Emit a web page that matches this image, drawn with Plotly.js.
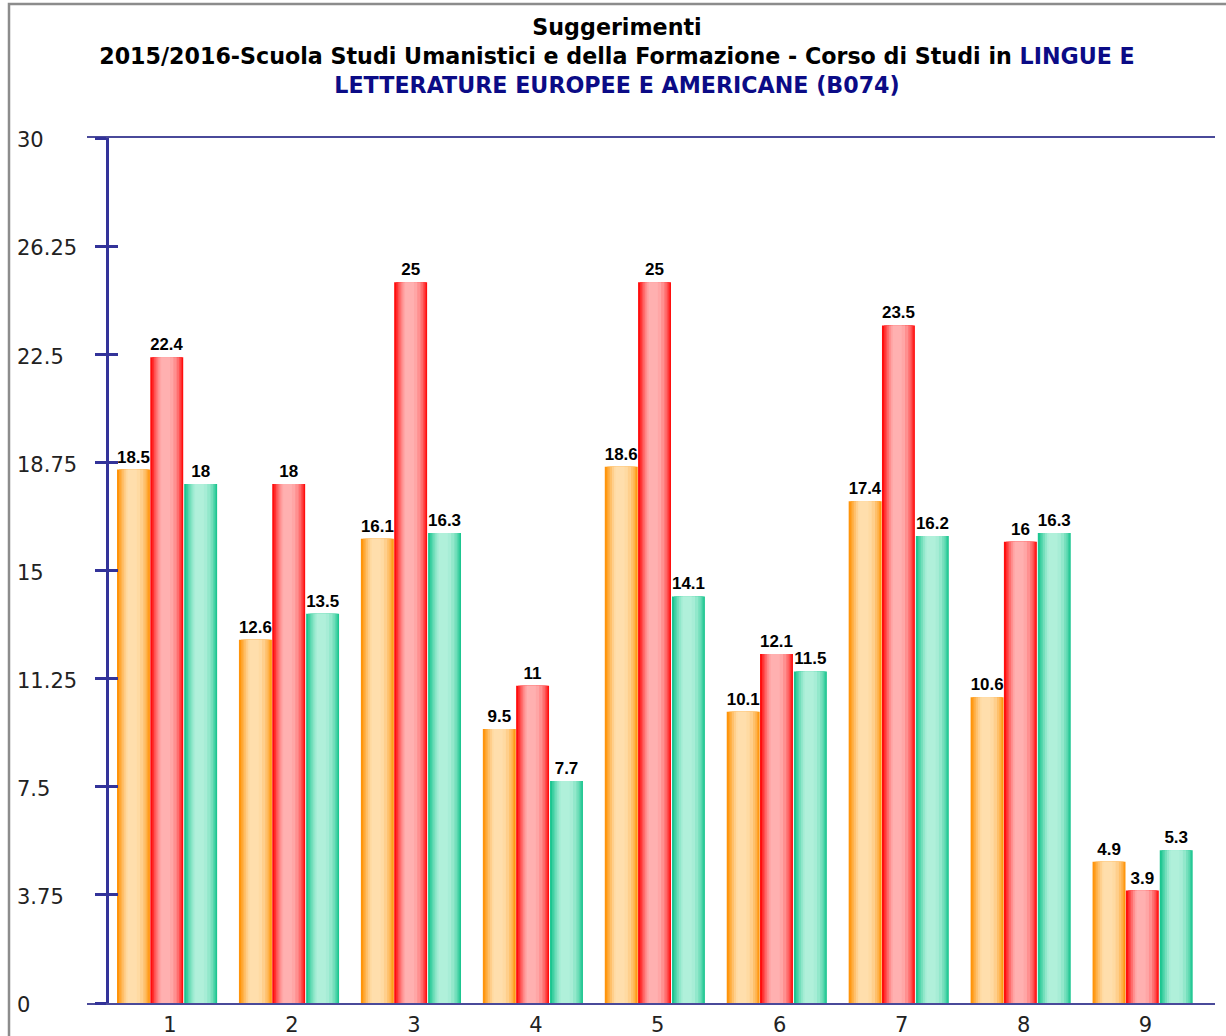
<!DOCTYPE html>
<html>
<head>
<meta charset="utf-8">
<script src="https://cdn.plot.ly/plotly-3.0.1.min.js"></script>
<style>html,body{margin:0;padding:0;background:#fff;}#chart{width:1226px;height:1036px;}</style>
</head>
<body>
<div id="chart"></div>
<script>
// ---- data ----
const categories = [1, 2, 3, 4, 5, 6, 7, 8, 9];
const categoryLabels = ["1", "2", "3", "4", "5", "6", "7", "8", "9"];
const seriesA = [18.5, 12.6, 16.1, 9.5, 18.6, 10.1, 17.4, 10.6, 4.9];   // orange
const seriesB = [22.4, 18, 25, 11, 25, 12.1, 23.5, 16, 3.9];           // red
const seriesC = [18, 13.5, 16.3, 7.7, 14.1, 11.5, 16.2, 16.3, 5.3];      // green
const yTickVals = [0, 3.75, 7.5, 11.25, 15, 18.75, 22.5, 26.25, 30];
const yTickText = ["0", "3.75", "7.5", "11.25", "15", "18.75", "22.5", "26.25", "30"];

// ---- styles ----
const seriesStyles = [
  {values: seriesA, offset: -0.41, edge: [255, 148, 10], light: [255, 222, 172]},
  {values: seriesB, offset: -0.137, edge: [255, 14, 14], light: [255, 176, 176]},
  {values: seriesC, offset: 0.141, edge: [28, 198, 144], light: [176, 240, 218]}
];
const barW = 0.27;
// nested gradient layers: [left fraction, right fraction, mix amount]
const layers = [
  [0.00, 1.00, 0.00],
  [0.06, 0.96, 0.20],
  [0.11, 0.92, 0.40],
  [0.16, 0.87, 0.60],
  [0.22, 0.80, 0.80],
  [0.28, 0.70, 0.94],
  [0.33, 0.60, 1.00]
];

function mix(a, b, t) {
  return 'rgb(' + a.map((v, i) => Math.round(v + (b[i] - v) * t)).join(',') + ')';
}

const traces = [];
seriesStyles.forEach(s => {
  layers.forEach((L, k) => {
    const tr = {
      type: 'bar',
      x: categories,
      y: s.values,
      width: barW * (L[1] - L[0]),
      offset: s.offset + barW * L[0],
      marker: {color: mix(s.edge, s.light, L[2]), line: {width: 0}},
      hoverinfo: 'skip',
      showlegend: false
    };
    if (k === 0) {
      tr.text = s.values.map(v => String(v));
      tr.textposition = 'outside';
      tr.textfont = {family: '"Liberation Sans", Arial, sans-serif', size: 17, color: '#000', weight: 'bold'};
      tr.cliponaxis = false;
    }
    traces.push(tr);
  });
});

const axisColor = '#333399';
const layout = {
  width: 1226,
  height: 1036,
  margin: {l: 10, r: 11, t: 138, b: 33, pad: 0},
  paper_bgcolor: '#fff',
  plot_bgcolor: 'rgba(0,0,0,0)',
  barmode: 'overlay',
  font: {family: '"DejaVu Sans", Verdana, sans-serif', color: '#222'},
  title: {
    text: '<b>Suggerimenti<br>2015/2016-Scuola Studi Umanistici e della Formazione - Corso di Studi in <span style="color:#0b0b86">LINGUE E</span><br><span style="color:#0b0b86">LETTERATURE EUROPEE E AMERICANE (B074)</span></b>',
    font: {family: '"DejaVu Sans", Verdana, sans-serif', size: 22.2, color: '#000'},
    x: 617 / 1226, xref: 'container', xanchor: 'center',
    y: 1 - 35 / 1036, yref: 'container', yanchor: 'top'
  },
  xaxis: {
    domain: [77 / 1205, 1],
    range: [0.344, 9.594],
    tickvals: categories,
    ticktext: categoryLabels,
    ticks: '',
    ticklabelshift: 3,
    ticklabelstandoff: 2,
    showgrid: false,
    zeroline: false,
    showline: true,
    linecolor: '#4a4a9a',
    linewidth: 2,
    mirror: true,
    tickfont: {size: 21, color: '#222'}
  },
  yaxis: {
    anchor: 'free',
    position: 97 / 1205,
    range: [0, 30],
    tickvals: yTickVals,
    ticks: 'outside',
    ticklen: 11,
    tickwidth: 3,
    tickcolor: axisColor,
    showticklabels: false,
    showgrid: false,
    zeroline: false,
    showline: true,
    linecolor: axisColor,
    linewidth: 3
  },
  yaxis2: {
    overlaying: 'y',
    anchor: 'free',
    position: 97 / 1205,
    range: [0, 30],
    tickvals: yTickVals,
    ticks: 'inside',
    ticklen: 10,
    tickwidth: 3,
    tickcolor: axisColor,
    showticklabels: false,
    showgrid: false,
    zeroline: false,
    showline: false
  },
  yaxis3: {
    overlaying: 'y',
    side: 'right',
    anchor: 'free',
    position: 6 / 1205,
    range: [0, 30],
    tickvals: yTickVals,
    ticktext: yTickText,
    ticks: '',
    ticklabelshift: 2,
    showgrid: false,
    zeroline: false,
    showline: false,
    tickfont: {size: 21, color: '#222'}
  },
  shapes: [{
    type: 'rect', xref: 'paper', yref: 'paper',
    x0: -1 / 1205, x1: 1.05, y0: -0.1, y1: (1003 - 4) / 865,
    line: {color: '#8c8c8c', width: 2.5}, fillcolor: 'rgba(0,0,0,0)', layer: 'below'
  }]
};

// invisible points so the overlay axes are drawn
traces.push({type: 'scatter', x: [categories[0]], y: [yTickVals[0]], yaxis: 'y2', mode: 'markers', marker: {opacity: 0}, hoverinfo: 'skip', showlegend: false});
traces.push({type: 'scatter', x: [categories[0]], y: [yTickVals[0]], yaxis: 'y3', mode: 'markers', marker: {opacity: 0}, hoverinfo: 'skip', showlegend: false});

Plotly.newPlot('chart', traces, layout, {displayModeBar: false, staticPlot: true});
</script>
</body>
</html>
